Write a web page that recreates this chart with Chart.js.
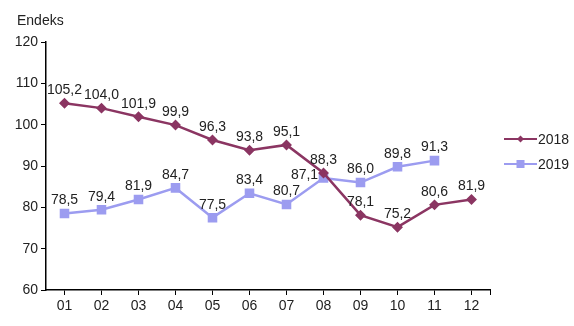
<!DOCTYPE html>
<html><head><meta charset="utf-8">
<script src="https://cdn.jsdelivr.net/npm/chart.js@4/dist/chart.umd.min.js"></script>
<style>html,body{margin:0;padding:0;background:#fff}#w{width:574px;height:326px}</style>
</head><body><div id="w"><canvas id="c"></canvas></div>
<script>
const months = ['01','02','03','04','05','06','07','08','09','10','11','12'];
const series2018 = [105.2,104.0,101.9,99.9,96.3,93.8,95.1,88.3,78.1,75.2,80.6,81.9];
const series2019 = [78.5,79.4,81.9,84.7,77.5,83.4,80.7,87.1,86.0,89.8,91.3,null];
const yTicks = [60,70,80,90,100,110,120];
const yTitle = 'Endeks';

const FONT = '"Liberation Sans", Arial, sans-serif';
const C18 = '#8B3562', C19 = '#9C9CF0';

const extras = {
  id:'extras',
  afterDatasetsDraw(chart){
    const ctx = chart.ctx;
    ctx.save();
    ctx.font = '14px ' + FONT;
    ctx.fillStyle = '#222';
    ctx.textAlign = 'center';
    ctx.textBaseline = 'bottom';
    chart.data.datasets.forEach((ds,di)=>{
      const meta = chart.getDatasetMeta(di);
      meta.data.forEach((pt,i)=>{
        const v = ds.data[i];
        if (v==null) return;
        let dx = 0, dy = -6;
        if (di===1 && i===7){ dx = -19; dy = 4; }
        ctx.fillText(v.toFixed(1).replace('.',','), pt.x+dx, pt.y+dy);
      });
    });
    // title
    ctx.textAlign='left'; ctx.textBaseline='alphabetic';
    ctx.font = '14px ' + FONT;
    ctx.fillText(yTitle, 17, 25);
    // right end tick of x axis
    const a = chart.chartArea;
    ctx.strokeStyle='#000'; ctx.lineWidth=1;
    ctx.beginPath(); ctx.moveTo(Math.round(a.right)+0.5, a.bottom); ctx.lineTo(Math.round(a.right)+0.5, a.bottom+5); ctx.stroke();
    // legend
    const items=[{t:'2018',c:C18,s:'d'},{t:'2019',c:C19,s:'s'}];
    ctx.font='14px '+FONT; ctx.textBaseline='middle';
    items.forEach((it,k)=>{
      const y = 139 + k*25;
      ctx.strokeStyle=it.c; ctx.lineWidth=2;
      ctx.beginPath(); ctx.moveTo(504,y); ctx.lineTo(537,y); ctx.stroke();
      ctx.fillStyle=it.c;
      if(it.s==='d'){ ctx.beginPath(); ctx.moveTo(520.5,y-3.5); ctx.lineTo(524,y); ctx.lineTo(520.5,y+3.5); ctx.lineTo(517,y); ctx.closePath(); ctx.fill(); }
      else { ctx.fillRect(516.5,y-4,8,8); }
      ctx.fillStyle='#222';
      ctx.fillText(it.t, 538, y+1);
    });
    ctx.restore();
  }
};

new Chart(document.getElementById('c'), {
  type:'line',
  data:{labels:months, datasets:[
    {label:'2018', data:series2018, borderColor:C18, backgroundColor:C18, borderWidth:2.5, pointStyle:'rectRot', pointRadius:3.7, pointHoverRadius:3.7, tension:0},
    {label:'2019', data:series2019, borderColor:C19, backgroundColor:C19, borderWidth:2.5, pointStyle:'rect', pointRadius:5, pointHoverRadius:5, tension:0}
  ]},
  options:{
    responsive:true, maintainAspectRatio:false, animation:false,
    layout:{padding:{top:42,right:84,left:0,bottom:0}},
    plugins:{legend:{display:false}, tooltip:{enabled:false}, title:{display:false}},
    scales:{
      x:{offset:true,
        grid:{display:true,drawOnChartArea:false,color:'#000',tickLength:5,offset:false},
        border:{color:'#000',width:1.5},
        ticks:{color:'#222',font:{size:14,family:FONT},padding:3,maxRotation:0},
        afterFit(s){ s.height=36; }
      },
      y:{min:60,max:120,
        afterBuildTicks(s){ s.ticks = yTicks.map(v=>({value:v})); },
        grid:{display:true,drawOnChartArea:false,color:'#000',tickLength:5},
        border:{color:'#000',width:1.5},
        ticks:{color:'#222',font:{size:14,family:FONT},padding:3},
        afterFit(s){ s.width=46; }
      }
    }
  },
  plugins:[extras]
});
</script></body></html>
